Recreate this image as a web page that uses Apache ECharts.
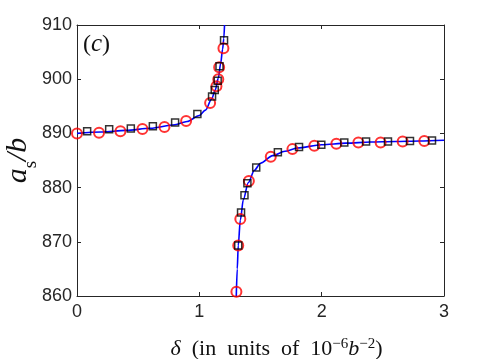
<!DOCTYPE html>
<html>
<head>
<meta charset="utf-8">
<script src="https://cdn.jsdelivr.net/npm/echarts@6/dist/echarts.min.js"></script>
<style>
  html, body { margin: 0; padding: 0; background: #fff; }
  #chart { width: 491px; height: 359px; }
</style>
</head>
<body>
<div id="chart"></div>
<script>
// values
var xTicks = [0, 1, 2, 3];
var yTicks = [860, 870, 880, 890, 900, 910];

// blue curve, lower and upper branch
var lineLowX = [0, 0.2, 0.4, 0.6, 0.8, 0.9, 1.0, 1.05, 1.1, 1.13, 1.155, 1.175, 1.19, 1.2, 1.206];
var lineLowY = [890.0, 890.25, 890.55, 890.95, 891.6, 892.2, 893.3, 894.3, 896.3, 898.0, 900.2, 903.0, 905.5, 907.5, 910];
var lineUpX = [1.302, 1.31, 1.318, 1.335, 1.36, 1.4, 1.45, 1.5, 1.6, 1.7, 1.8, 2.0, 2.2, 2.4, 2.6, 2.8, 3.0];
var lineUpY = [860, 865, 869.3, 874, 877.8, 880.9, 883.2, 884.5, 885.9, 886.7, 887.3, 887.9, 888.2, 888.4, 888.5, 888.6, 888.75];

// red circles
var circX = [0, 0.18, 0.355, 0.535, 0.715, 0.892, 1.088, 1.14, 1.155, 1.162, 1.197,
             1.303, 1.318, 1.335, 1.405, 1.584, 1.761, 1.94, 2.12, 2.30, 2.482, 2.662, 2.839];
var circY = [890.0, 890.1, 890.4, 890.8, 891.2, 892.3, 895.6, 898.7, 900.0, 902.2, 905.7,
             860.8, 869.3, 874.2, 881.2, 885.7, 887.1, 887.7, 888.1, 888.3, 888.3, 888.5, 888.6];

// black squares
var sqX = [0.083, 0.263, 0.44, 0.62, 0.802, 0.984, 1.104, 1.126, 1.15, 1.165, 1.202,
           1.318, 1.341, 1.369, 1.393, 1.465, 1.642, 1.815, 1.997, 2.185, 2.363, 2.542, 2.722, 2.902];
var sqY = [890.4, 890.75, 890.9, 891.3, 892.0, 893.6, 896.8, 898.0, 899.7, 902.4, 907.2,
           869.3, 875.4, 878.6, 880.8, 883.7, 886.5, 887.5, 887.9, 888.3, 888.5, 888.5, 888.6, 888.7];

function zip(xs, ys) {
  var out = [];
  for (var i = 0; i < xs.length; i++) out.push([xs[i], ys[i]]);
  return out;
}

var axisCol = '#262626';
var chart = echarts.init(document.getElementById('chart'));

var xBase = {
  type: 'value', min: xTicks[0], max: xTicks[xTicks.length - 1], interval: 1,
  axisLine: { show: true, onZero: false, lineStyle: { color: axisCol, width: 1 } },
  axisTick: { show: true, inside: true, length: 4, lineStyle: { color: axisCol } },
  splitLine: { show: false }
};
var yBase = {
  type: 'value', min: yTicks[0], max: yTicks[yTicks.length - 1], interval: 10,
  axisLine: { show: true, onZero: false, lineStyle: { color: axisCol, width: 1 } },
  axisTick: { show: true, inside: true, length: 4, lineStyle: { color: axisCol } },
  splitLine: { show: false }
};

chart.setOption({
  animation: false,
  backgroundColor: '#fff',
  grid: { left: 77, right: 47, top: 25, bottom: 63, containLabel: false, outerBoundsMode: 'none' },
  xAxis: [
    Object.assign({}, xBase, {
      position: 'bottom',
      axisLabel: { color: axisCol, fontSize: 18, fontFamily: 'Liberation Sans', margin: 7 },
      name: '{i|δ}  (in  units  of  10{sup|−6}{i|b}{sup|−2})',
      nameLocation: 'middle',
      nameGap: 41,
      nameMoveOverlap: false,
      nameTextStyle: {
        color: '#111', fontSize: 22, fontFamily: 'Liberation Serif', padding: [0, 0, 0, 32],
        rich: {
          i: { fontSize: 22, fontStyle: 'italic', fontFamily: 'Liberation Serif', color: '#111' },
          sup: { fontSize: 15, fontFamily: 'Liberation Serif', color: '#111', verticalAlign: 'top', padding: [0, 0, 9, 0] }
        }
      }
    }),
    Object.assign({}, xBase, { position: 'top', axisLabel: { show: false } })
  ],
  yAxis: [
    Object.assign({}, yBase, {
      position: 'left',
      axisLabel: { color: axisCol, fontSize: 18, fontFamily: 'Liberation Sans', margin: 5 },
      name: '{a|a}{s|s}{a|/b}',
      nameLocation: 'middle',
      nameRotate: 90,
      nameGap: 44,
      nameMoveOverlap: false,
      nameTextStyle: {
        color: '#111',
        rich: {
          a: { fontSize: 30, fontStyle: 'italic', fontFamily: 'Liberation Serif', color: '#111' },
          s: { fontSize: 19, fontFamily: 'Liberation Serif', color: '#111', verticalAlign: 'bottom', padding: [0, 0, -8, 0] }
        }
      }
    }),
    Object.assign({}, yBase, { position: 'right', axisLabel: { show: false } })
  ],
  graphic: [{
    type: 'text', left: 83, top: 32,
    style: {
      text: '({c|c})',
      font: '24px "Liberation Serif"',
      fill: '#111',
      rich: { c: { fontSize: 25, fontStyle: 'italic', fontFamily: 'Liberation Serif', fill: '#111' } }
    }
  }],
  series: [
    {
      type: 'line', data: zip(lineLowX, lineLowY), smooth: 0.3, smoothMonotone: 'x',
      showSymbol: false, clip: true, lineStyle: { color: '#0000ff', width: 1.6 }, z: 2
    },
    {
      type: 'line', data: zip(lineUpX, lineUpY), smooth: 0.3, smoothMonotone: 'x',
      showSymbol: false, clip: true, lineStyle: { color: '#0000ff', width: 1.6 }, z: 2
    },
    {
      type: 'scatter', data: zip(circX, circY), symbol: 'circle', symbolSize: 10,
      itemStyle: { color: 'rgba(0,0,0,0)', borderColor: '#ff0000', borderWidth: 2 }, z: 3
    },
    {
      type: 'scatter', data: zip(sqX, sqY), symbol: 'rect', symbolSize: 7,
      itemStyle: { color: 'rgba(0,0,0,0)', borderColor: '#000', borderWidth: 1.5 }, z: 4
    }
  ]
});
</script>
</body>
</html>
